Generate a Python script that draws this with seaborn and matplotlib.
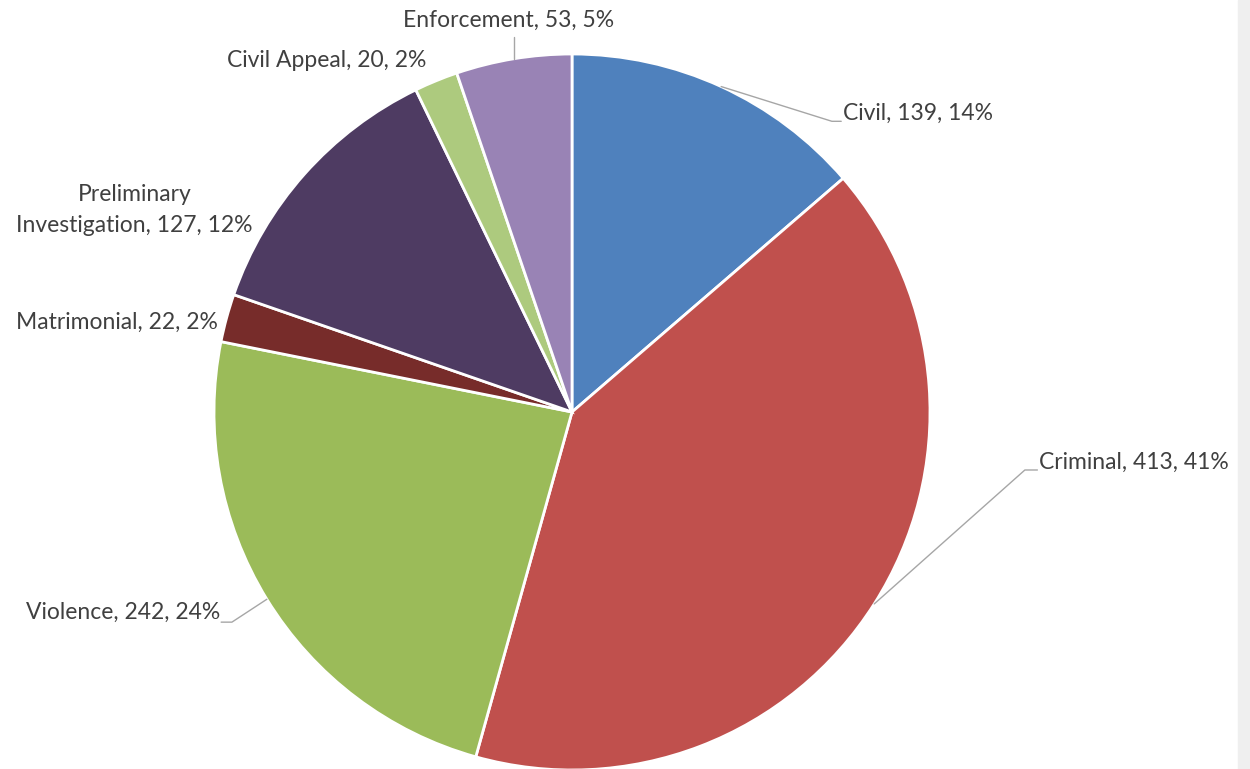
import numpy as np
import pandas as pd
import seaborn as sns
from matplotlib import pyplot as plt
from matplotlib.patches import Rectangle

# ---------------- data ----------------
categories = ['Civil', 'Criminal', 'Violence', 'Matrimonial',
              'Preliminary\nInvestigation', 'Civil Appeal', 'Enforcement']
values = [139, 413, 242, 22, 127, 20, 53]
colors = ['#4F81BD', '#C0504D', '#9BBB59', '#772C2A',
          '#4E3B62', '#ADCA7E', '#9983B5']

df = pd.DataFrame({'category': categories, 'value': values, 'color': colors})
total = df['value'].sum()

# label placement: (text x, text y, ha, elbow or None)
label_pos = {
    'Civil': (0.757, 0.835, 'left', (0.726, 0.812, 0.752)),
    'Criminal': (1.305, -0.142, 'left', (1.265, -0.162, 1.300)),
    'Violence': (-0.983, -0.559, 'right', (-0.950, -0.587, -0.980)),
    'Matrimonial': (-0.989, 0.251, 'right', None),
    'Preliminary\nInvestigation': (-1.222, 0.564, 'center', None),
    'Civil Appeal': (-0.408, 0.983, 'right', None),
    'Enforcement': (-0.178, 1.095, 'center', 'vertical'),
}

sns.set_theme(style='white')
plt.rcParams['font.family'] = ['Lato', 'DejaVu Sans']

fig = plt.figure(figsize=(12.5, 7.69), dpi=100)
fig.patches.append(Rectangle((1238 / 1250, 0), 12 / 1250, 1, transform=fig.transFigure,
                             color='#efefef', zorder=0))

cx, cy, r = 572, 412, 358
ax = fig.add_axes([(cx - r) / 1250, (769 - cy - r) / 769, 2 * r / 1250, 2 * r / 769])
wedges, _ = ax.pie(df['value'], colors=df['color'], startangle=90, counterclock=False,
                   radius=1, wedgeprops=dict(edgecolor='white', linewidth=2))
ax.set_xlim(-1, 1)
ax.set_ylim(-1, 1)
ax.axis('off')

line_kw = dict(color='#a6a6a6', lw=1, clip_on=False)
for w, (_, row) in zip(wedges, df.iterrows()):
    tx, ty, ha, elbow = label_pos[row['category']]
    pct = row['value'] / total
    text = f"{row['category']}, {row['value']}, {pct:.0%}"
    ax.text(tx, ty, text, ha=ha, va='center', fontsize=16.5, color='#404040',
            linespacing=1.6, multialignment='center')
    mid = np.deg2rad((w.theta1 + w.theta2) / 2)
    ex, ey = np.cos(mid), np.sin(mid)
    if elbow == 'vertical':
        ax.plot([ex, ex], [ey, 1.048], **line_kw)
    elif elbow is not None:
        bx, by, endx = elbow
        ax.plot([ex, bx, endx], [ey, by, by], **line_kw)

plt.savefig('out.png', dpi=100)
